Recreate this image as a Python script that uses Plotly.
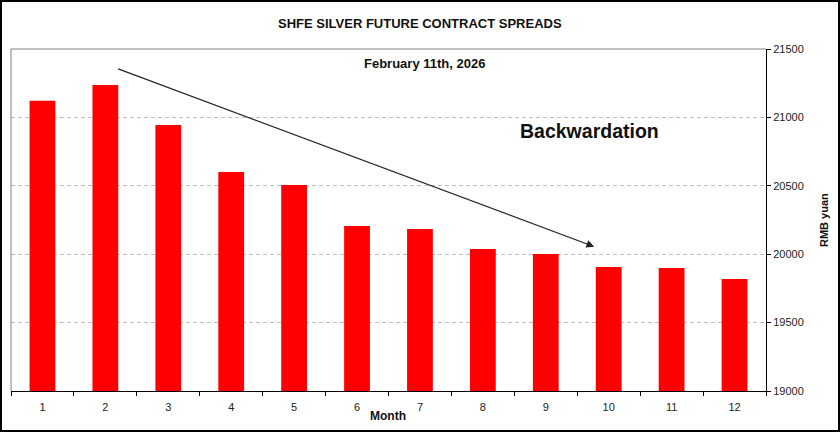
import plotly.graph_objects as go

months = [str(i) for i in range(1, 13)]
prices = [21122, 21237, 20944, 20601, 20506, 20206, 20184, 20038, 20001, 19906, 19899, 19819]
y_ticks = [19000, 19500, 20000, 20500, 21000, 21500]

W, H = 840, 432
ML, MR, MT, MB = 11, 74, 49, 41
PW, PH = W - ML - MR, H - MT - MB

def px_x(p):
    return (p - ML) / PW

def px_y(p):
    return (H - MB - p) / PH

font = "Liberation Sans, Arial, sans-serif"

fig = go.Figure()
fig.add_trace(go.Bar(x=months, y=prices, marker=dict(color="#ff0000", line=dict(width=0)),
                     width=0.41, showlegend=False, hoverinfo="skip"))

def label(text, x, y, size, angle=0):
    return dict(text=text, xref="paper", yref="paper", x=px_x(x), y=px_y(y),
                xanchor="center", yanchor="middle", showarrow=False, textangle=angle,
                font=dict(size=size, color="#111"))

fig.update_layout(
    width=W, height=H,
    margin=dict(l=ML, r=MR, t=MT, b=MB),
    paper_bgcolor="white", plot_bgcolor="white",
    font=dict(family=font, size=11, color="#222"),
    xaxis=dict(type="category", tickson="boundaries", ticks="outside", ticklen=4,
               tickcolor="black", showline=True, linecolor="black", linewidth=1,
               showgrid=False, tickfont=dict(size=11, color="#222"), range=[-0.5, 11.5],
               ticklabelstandoff=6),
    yaxis=dict(side="right", range=[19000, 21500], tickvals=y_ticks, tickformat="d",
               ticks="outside", ticklen=4, tickcolor="black", showline=True,
               linecolor="black", linewidth=1,
               showgrid=True, gridcolor="#c0c0c0", griddash="4px,3px", gridwidth=1,
               zeroline=False, tickfont=dict(size=11, color="#222")),
    shapes=[
        dict(type="line", xref="paper", yref="paper", x0=0, x1=1, y0=1, y1=1,
             line=dict(color="#808080", width=1)),
        dict(type="line", xref="paper", yref="paper", x0=0, x1=0, y0=0, y1=1,
             line=dict(color="#808080", width=1)),
        dict(type="rect", xref="paper", yref="paper",
             x0=px_x(1), x1=px_x(839), y0=px_y(431), y1=px_y(1),
             line=dict(color="black", width=2)),
    ],
    annotations=[
        label("<b>SHFE SILVER FUTURE CONTRACT SPREADS</b>", 420, 24, 13),
        label("<b>February 11th, 2026</b>", 424, 63, 13),
        label("<b>Backwardation</b>", 589, 131, 19.5),
        label("<b>Month</b>", 388, 416, 12),
        label("<b>RMB yuan</b>", 824, 220, 11, -90),
        dict(x=8.77, y=20055, ax=1.18, ay=21359, xref="x", yref="y", axref="x", ayref="y",
             text="", showarrow=True, arrowhead=2, arrowsize=1.3, arrowwidth=1.2,
             arrowcolor="#222"),
    ],
)

fig.write_html("out.html", config={"displayModeBar": False},
               post_script="document.body.style.margin='0';")
